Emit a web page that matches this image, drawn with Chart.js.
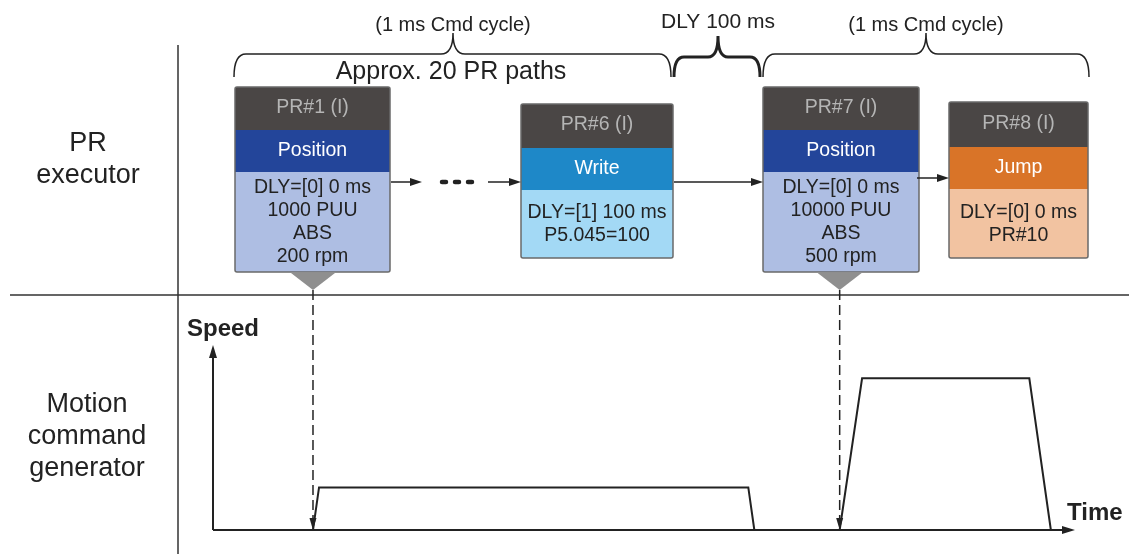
<!DOCTYPE html>
<html>
<head>
<meta charset="utf-8">
<script src="https://cdn.jsdelivr.net/npm/chart.js@4/dist/chart.umd.min.js"></script>
<style>
  html, body { margin: 0; padding: 0; background: #fff; }
  #wrap { width: 1129px; height: 554px; }
</style>
</head>
<body>
<div id="wrap"><canvas id="prchart" width="1129" height="554"></canvas></div>
<script>
// speed profile (time / speed in chart units)
const move1Time = [11.6, 12.3, 62.1, 62.8];
const move1Speed = [0, 23, 23, 0];
const move2Time = [72.7, 75.3, 94.7, 97.2];
const move2Speed = [0, 82, 82, 0];

// PR path boxes
const prNames = ['PR#1 (I)', 'PR#6 (I)', 'PR#7 (I)', 'PR#8 (I)'];
const prTypes = ['Position', 'Write', 'Position', 'Jump'];
const prDetails = [
  ['DLY=[0] 0 ms', '1000 PUU', 'ABS', '200 rpm'],
  ['DLY=[1] 100 ms', 'P5.045=100'],
  ['DLY=[0] 0 ms', '10000 PUU', 'ABS', '500 rpm'],
  ['DLY=[0] 0 ms', 'PR#10']
];
const rowLabels = [['PR', 'executor'], ['Motion', 'command', 'generator']];
const braceLabels = ['(1 ms Cmd cycle)', 'DLY 100 ms', '(1 ms Cmd cycle)'];
const groupLabel = 'Approx. 20 PR paths';
const axisLabels = ['Speed', 'Time'];

// layout / styles
const FONT = '"Liberation Sans", Arial, sans-serif';
const INK = '#222';
const boxLayout = [
  {x: 235, w: 155, top: 87, head: 43, band: 42, bottom: 272, band_c: '#23459a', body_c: '#aebee3'},
  {x: 521, w: 152, top: 104, head: 44, band: 42, bottom: 258, band_c: '#1e88c8', body_c: '#a3d9f5'},
  {x: 763, w: 156, top: 87, head: 43, band: 42, bottom: 272, band_c: '#23459a', body_c: '#aebee3'},
  {x: 949, w: 139, top: 102, head: 45, band: 42, bottom: 258, band_c: '#d97428', body_c: '#f2c3a1'}
];

function arrowHead(c, x, y, dx, dy, len, half) {
  const px = -dy, py = dx;
  c.beginPath();
  c.moveTo(x, y);
  c.lineTo(x - dx * len + px * half, y - dy * len + py * half);
  c.lineTo(x - dx * len - px * half, y - dy * len - py * half);
  c.closePath();
  c.fill();
}

function hArrow(c, x0, x1, y) {
  c.beginPath();
  c.moveTo(x0, y);
  c.lineTo(x1 - 6, y);
  c.stroke();
  arrowHead(c, x1, y, 1, 0, 12, 4);
}

function brace(c, x0, x1, xc, yEnd, yBar, yPeak, r, lw) {
  c.lineWidth = lw;
  c.beginPath();
  c.moveTo(x0, yEnd);
  c.quadraticCurveTo(x0, yBar, x0 + r, yBar);
  c.lineTo(xc - r, yBar);
  c.quadraticCurveTo(xc, yBar, xc, yPeak);
  c.quadraticCurveTo(xc, yBar, xc + r, yBar);
  c.lineTo(x1 - r, yBar);
  c.quadraticCurveTo(x1, yBar, x1, yEnd);
  c.stroke();
}

const diagram = {
  id: 'diagram',
  afterDraw(chart) {
    const c = chart.ctx;
    const xs = chart.scales.x, ys = chart.scales.y;
    const x0 = xs.getPixelForValue(0), y0 = ys.getPixelForValue(0);
    c.save();
    c.strokeStyle = INK; c.fillStyle = INK;
    c.textAlign = 'center'; c.textBaseline = 'middle';

    // frame lines
    c.lineWidth = 1.5;
    c.strokeStyle = '#333';
    c.beginPath();
    c.moveTo(178, 45); c.lineTo(178, 554);
    c.moveTo(10, 295); c.lineTo(1129, 295);
    c.stroke();
    c.strokeStyle = INK;

    // row titles
    c.font = '27px ' + FONT;
    rowLabels[0].forEach((t, i) => c.fillText(t, 88, 144 + i * 32));
    rowLabels[1].forEach((t, i) => c.fillText(t, 87, 405 + i * 32));

    // braces
    brace(c, 234, 671, 453, 77, 54, 33, 12, 1.5);
    brace(c, 674, 760, 718, 77, 57, 36, 10, 3);
    brace(c, 763, 1089, 926, 77, 54, 33, 12, 1.5);
    c.font = '20px ' + FONT;
    c.fillText(braceLabels[0], 453, 25);
    c.fillText(braceLabels[2], 926, 25);
    c.font = '21px ' + FONT;
    c.fillText(braceLabels[1], 718, 22);
    c.font = '25px ' + FONT;
    c.fillText(groupLabel, 451, 72);

    // PR boxes
    boxLayout.forEach((b, i) => {
      const hb = b.top + b.head, bb = hb + b.band;
      c.fillStyle = '#4a4645';
      c.fillRect(b.x, b.top, b.w, b.head);
      c.fillStyle = b.band_c;
      c.fillRect(b.x, hb, b.w, b.band);
      c.fillStyle = b.body_c;
      c.fillRect(b.x, bb, b.w, b.bottom - bb);
      c.lineWidth = 1.5;
      c.strokeStyle = '#6a6a6a';
      c.beginPath();
      c.roundRect(b.x, b.top, b.w, b.bottom - b.top, 2);
      c.stroke();
      const cx = b.x + b.w / 2;
      c.font = '19.5px ' + FONT;
      c.fillStyle = '#b5b5b5';
      c.fillText(prNames[i], cx, b.top + b.head / 2 - 1);
      c.fillStyle = '#fff';
      c.fillText(prTypes[i], cx, hb + b.band / 2);
      c.fillStyle = INK;
      const lines = prDetails[i];
      const start = bb + (b.bottom - bb - lines.length * 23) / 2 + 12;
      lines.forEach((t, j) => c.fillText(t, cx, start + j * 23));
    });

    // flow arrows between boxes
    c.strokeStyle = INK; c.fillStyle = INK; c.lineWidth = 1.5;
    hArrow(c, 391, 422, 182);
    hArrow(c, 488, 521, 182);
    hArrow(c, 674, 763, 182);
    hArrow(c, 917, 949, 178);
    c.lineWidth = 4.5;
    c.lineCap = 'round';
    c.setLineDash([4, 9]);
    c.beginPath(); c.moveTo(442, 182); c.lineTo(473, 182); c.stroke();
    c.setLineDash([]);
    c.lineCap = 'butt';

    // trigger triangles + dashed links to the motion starts
    [[0, move1Time[0]], [2, move2Time[0]]].forEach(([bi, t]) => {
      const b = boxLayout[bi];
      const tx = xs.getPixelForValue(t);
      c.fillStyle = '#8f8f8f';
      c.beginPath();
      c.moveTo(tx - 22, b.bottom + 1);
      c.lineTo(tx + 22, b.bottom + 1);
      c.lineTo(tx, 290);
      c.closePath();
      c.fill();
      c.strokeStyle = INK; c.fillStyle = INK;
      c.lineWidth = 1.5;
      c.setLineDash([10, 5]);
      c.beginPath(); c.moveTo(tx, 290); c.lineTo(tx, y0 - 8); c.stroke();
      c.setLineDash([]);
      arrowHead(c, tx, y0, 0, 1, 12, 3.5);
    });

    // axes
    c.lineWidth = 2;
    c.beginPath();
    c.moveTo(x0, y0); c.lineTo(x0, chart.chartArea.top + 8);
    c.moveTo(x0, y0); c.lineTo(chart.chartArea.right - 8, y0);
    c.stroke();
    arrowHead(c, x0, chart.chartArea.top, 0, -1, 13, 4);
    arrowHead(c, chart.chartArea.right, y0, 1, 0, 13, 4);
    c.font = 'bold 24px ' + FONT;
    c.textAlign = 'left';
    c.fillText(axisLabels[0], 187, 329);
    c.fillText(axisLabels[1], 1067, 513);
    c.restore();
  }
};

const toPts = (ts, vs) => ts.map((t, i) => ({x: t, y: vs[i]}));

const config = {
  type: 'line',
  data: {
    datasets: [{
      label: 'PR#1 move',
      data: toPts(move1Time, move1Speed),
      borderColor: INK,
      borderWidth: 2,
      pointRadius: 0,
      clip: false
    }, {
      label: 'PR#7 move',
      data: toPts(move2Time, move2Speed),
      borderColor: INK,
      borderWidth: 2,
      pointRadius: 0,
      clip: false
    }]
  },
  options: {
    responsive: false,
    animation: false,
    devicePixelRatio: 1,
    events: [],
    layout: { padding: { left: 213, right: 54, top: 345, bottom: 24 } },
    plugins: { legend: { display: false }, tooltip: { enabled: false } },
    scales: {
      x: { type: 'linear', min: 0, max: 100, display: false },
      y: { min: 0, max: 100, display: false }
    }
  },
  plugins: [diagram]
};

const chart = new Chart(document.getElementById('prchart'), config);
</script>
</body>
</html>
